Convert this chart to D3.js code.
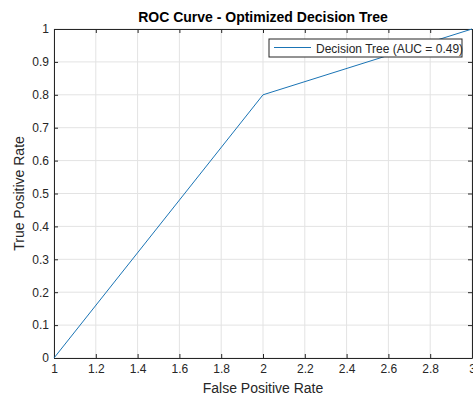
<!DOCTYPE html>
<html>
<head>
<meta charset="utf-8">
<script src="https://cdn.jsdelivr.net/npm/d3@7"></script>
<style>
  body { margin: 0; background: #fff; }
  svg { display: block; font-family: Arial, "Liberation Sans", sans-serif; }
  .ticklabel { font-size: 12px; fill: #262626; }
</style>
</head>
<body>
<div id="chart"></div>
<script>
// ROC data
const fprValues = [1, 2, 3];
const tprValues = [0, 0.8, 1];
const xTicks = [1, 1.2, 1.4, 1.6, 1.8, 2, 2.2, 2.4, 2.6, 2.8, 3];
const yTicks = [0, 0.1, 0.2, 0.3, 0.4, 0.5, 0.6, 0.7, 0.8, 0.9, 1];
const seriesName = 'Decision Tree (AUC = 0.49)';

const W = 473, H = 398;
const margin = { top: 29, right: 1, bottom: 40, left: 54 };
const width = W - margin.left - margin.right;
const height = H - margin.top - margin.bottom;
const lineColor = '#1a74b5';

const svg = d3.select('#chart').append('svg')
  .attr('width', W).attr('height', H);

const g = svg.append('g')
  .attr('transform', `translate(${margin.left},${margin.top})`);

const x = d3.scaleLinear().domain([1, 3]).range([0, width]);
const y = d3.scaleLinear().domain([0, 1]).range([height, 0]);

// grid
g.append('g').selectAll('line').data(xTicks).enter().append('line')
  .attr('x1', d => x(d)).attr('x2', d => x(d))
  .attr('y1', 0).attr('y2', height)
  .attr('stroke', '#e3e3e3');
g.append('g').selectAll('line').data(yTicks).enter().append('line')
  .attr('y1', d => y(d)).attr('y2', d => y(d))
  .attr('x1', 0).attr('x2', width)
  .attr('stroke', '#e3e3e3');

// axes (ticks inside, boxed)
const fmt = d => d3.format('~g')(d);
const xAxis = d3.axisBottom(x).tickValues(xTicks).tickSizeInner(-4).tickSizeOuter(0).tickPadding(6).tickFormat(fmt);
const yAxis = d3.axisLeft(y).tickValues(yTicks).tickSizeInner(-4).tickSizeOuter(0).tickPadding(5).tickFormat(fmt);

const gx = g.append('g').attr('transform', `translate(0,${height})`).call(xAxis);
const gy = g.append('g').call(yAxis);
g.append('g').call(d3.axisTop(x).tickValues(xTicks).tickSizeInner(-4).tickSizeOuter(0).tickFormat(''));
g.append('g').attr('transform', `translate(${width},0)`)
  .call(d3.axisRight(y).tickValues(yTicks).tickSizeInner(-4).tickSizeOuter(0).tickFormat(''));

g.selectAll('.domain').attr('stroke', '#262626');
g.selectAll('.tick line').attr('stroke', '#262626');
g.selectAll('.tick text').attr('class', 'ticklabel').attr('font-family', null).attr('font-size', null);

// ROC line
const pts = fprValues.map((d, i) => [d, tprValues[i]]);
g.append('path')
  .datum(pts)
  .attr('fill', 'none')
  .attr('stroke', lineColor)
  .attr('stroke-width', 1)
  .attr('d', d3.line().x(d => x(d[0])).y(d => y(d[1])));

// legend
const lg = svg.append('g').attr('transform', 'translate(269,39)');
lg.append('rect').attr('width', 193).attr('height', 18)
  .attr('fill', '#fff').attr('stroke', '#262626').attr('stroke-width', 1);
lg.append('line').attr('x1', 5).attr('x2', 42).attr('y1', 8.5).attr('y2', 8.5)
  .attr('stroke', lineColor);
lg.append('text').attr('x', 47).attr('y', 13.5)
  .attr('font-size', 12).attr('fill', '#262626').text(seriesName);

// title & labels
svg.append('text')
  .attr('x', margin.left + width / 2).attr('y', 21.5)
  .attr('text-anchor', 'middle')
  .attr('font-size', 14).attr('font-weight', 'bold').attr('fill', '#000')
  .text('ROC Curve - Optimized Decision Tree');

svg.append('text')
  .attr('x', margin.left + width / 2).attr('y', 393)
  .attr('text-anchor', 'middle')
  .attr('font-size', 14).attr('fill', '#262626')
  .text('False Positive Rate');

svg.append('text')
  .attr('transform', `translate(24,${margin.top + height / 2}) rotate(-90)`)
  .attr('text-anchor', 'middle')
  .attr('font-size', 14).attr('fill', '#262626')
  .text('True Positive Rate');
</script>
</body>
</html>
